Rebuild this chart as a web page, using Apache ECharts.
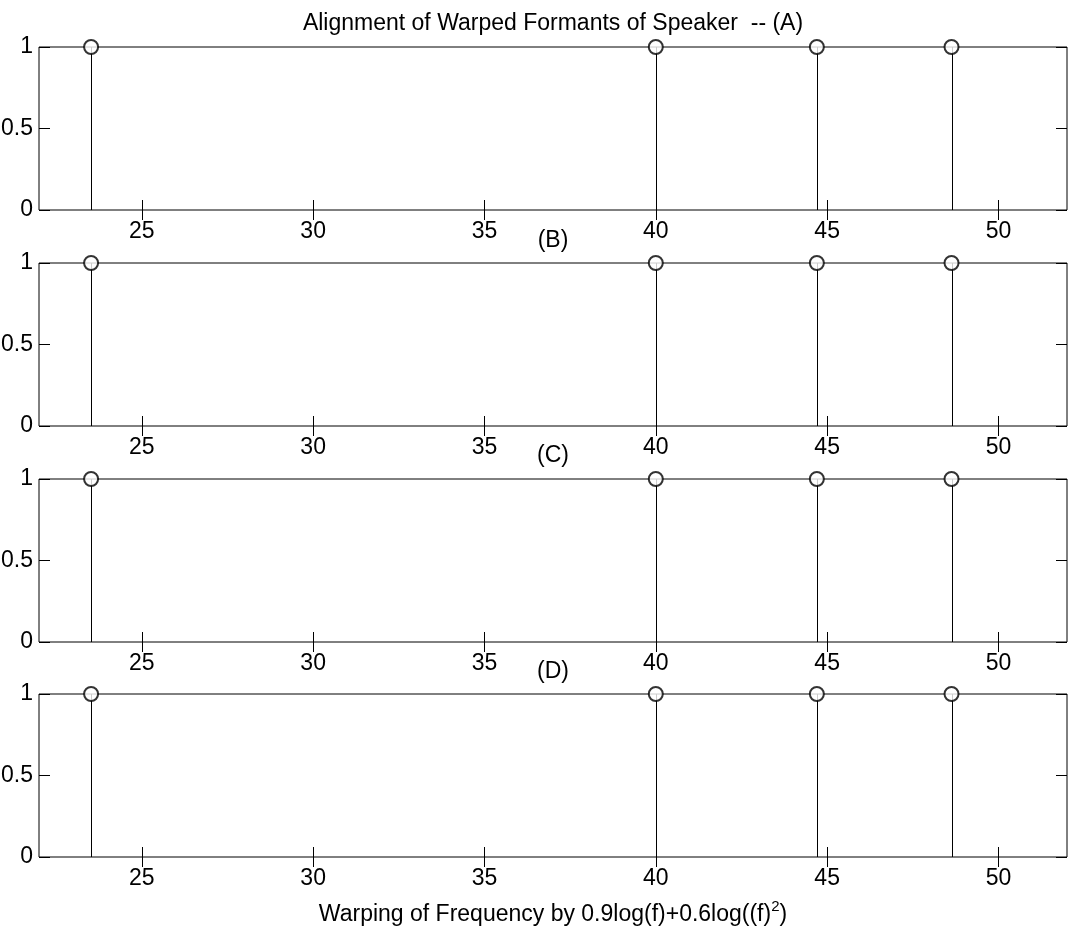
<!DOCTYPE html>
<html>
<head>
    <meta charset="UTF-8">
    <title>Alignment of Warped Formants</title>
    <style>
        body { margin: 0; background: #fff; }
        #chart { width: 1077px; height: 928px; }
    </style>
</head>
<body>
    <div id="chart"></div>
    <script src="https://cdn.jsdelivr.net/npm/echarts@6/dist/echarts.min.js"></script>
    <script>
        // formant positions (warped frequency) for each speaker panel
        const posA = [23.52, 40.0, 44.7, 48.63];
        const posB = [23.52, 40.0, 44.7, 48.63];
        const posC = [23.52, 40.0, 44.7, 48.63];
        const posD = [23.52, 40.0, 44.7, 48.63];
        const amps = [1, 1, 1, 1];
        const panelTitles = ['Alignment of Warped Formants of Speaker  -- (A)', '(B)', '(C)', '(D)'];
        const xTicks = [25, 30, 35, 40, 45, 50];

        const panels = [posA, posB, posC, posD];
        const tops = [47, 263, 479, 694];
        const titleY = [24, 241, 456, 672];
        const font = 'Liberation Sans, Arial, sans-serif';
        const fs = 23;

        const grids = [], xAxes = [], yAxes = [], series = [], texts = [];
        panels.forEach((pos, i) => {
            grids.push({
                left: 39, right: 10, top: tops[i], height: 163,
                outerBoundsMode: 'none', containLabel: false,
                show: true, borderColor: '#000', borderWidth: 1
            });
            texts.push({
                type: 'text', x: 553, y: titleY[i],
                style: {
                    text: panelTitles[i], fill: '#000', font: fs + 'px ' + font,
                    textAlign: 'center', textVerticalAlign: 'middle'
                }
            });
            const xBase = {
                type: 'value', gridIndex: i, min: 22, max: 52,
                splitLine: { show: false },
                axisLine: { show: false }
            };
            xAxes.push(Object.assign({}, xBase, {
                position: 'bottom',
                axisTick: { inside: true, length: 10, lineStyle: { color: '#000' }, customValues: xTicks },
                axisLabel: { color: '#000', fontFamily: font, fontSize: fs, margin: 10, customValues: xTicks },
                name: i === 3 ? '{a|Warping of Frequency by 0.9log(f)+0.6log((f)}{s|2}{a|)}' : '',
                nameLocation: 'middle', nameGap: 42,
                nameTextStyle: {
                    rich: {
                        a: { fontFamily: font, fontSize: fs, color: '#000' },
                        s: { fontFamily: font, fontSize: 15, color: '#000', padding: [0, 0, 16, 0] }
                    }
                }
            }));
            xAxes.push(Object.assign({}, xBase, {
                position: 'top',
                axisTick: { inside: true, length: 10, lineStyle: { color: '#000' }, customValues: xTicks },
                axisLabel: { show: false }
            }));
            const yBase = {
                type: 'value', gridIndex: i, min: 0, max: 1, interval: 0.5,
                splitLine: { show: false }, axisLine: { show: false }
            };
            yAxes.push(Object.assign({}, yBase, {
                position: 'left',
                axisTick: { inside: true, length: 11, lineStyle: { color: '#000' } },
                axisLabel: { color: '#000', fontFamily: font, fontSize: fs, margin: 6 }
            }));
            yAxes.push(Object.assign({}, yBase, {
                position: 'right',
                axisTick: { inside: true, length: 11, lineStyle: { color: '#000' } },
                axisLabel: { show: false }
            }));
            const data = pos.map((x, k) => [x, amps[k]]);
            // stems
            series.push({
                type: 'custom', xAxisIndex: i * 2, yAxisIndex: i * 2,
                data: data, clip: false,
                renderItem: (params, api) => {
                    const p0 = api.coord([api.value(0), 0]);
                    const p1 = api.coord([api.value(0), api.value(1)]);
                    return {
                        type: 'line',
                        shape: { x1: Math.round(p0[0]) + 0.5, y1: p0[1], x2: Math.round(p1[0]) + 0.5, y2: p1[1] },
                        style: { stroke: '#000', lineWidth: 1 }
                    };
                }
            });
            // circle markers
            series.push({
                type: 'scatter', xAxisIndex: i * 2, yAxisIndex: i * 2,
                data: data, clip: false,
                symbol: 'emptyCircle', symbolSize: 14,
                itemStyle: { color: '#000', borderColor: '#000', borderWidth: 1 },
                silent: true
            });
        });

        const chart = echarts.init(document.getElementById('chart'));
        chart.setOption({
            backgroundColor: '#fff',
            animation: false,
            grid: grids,
            xAxis: xAxes,
            yAxis: yAxes,
            series: series,
            graphic: texts
        });
    </script>
</body>
</html>
